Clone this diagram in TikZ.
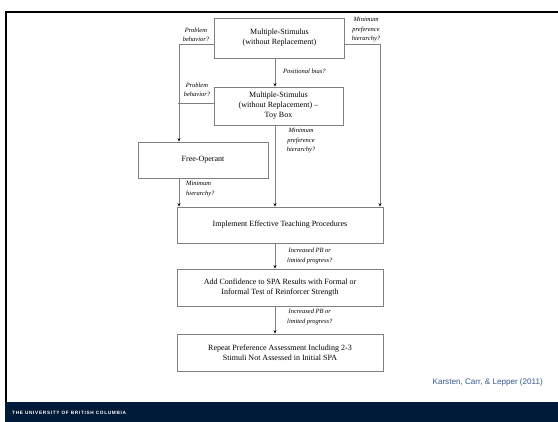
\documentclass[tikz,border=0pt]{standalone}
\usepackage{fontspec}
\setmainfont{Liberation Serif}
\newfontfamily\arialfont{Liberation Sans}
\usetikzlibrary{arrows.meta}
\definecolor{boxgrey}{RGB}{128,128,128}
\definecolor{navy}{RGB}{0,27,56}
\definecolor{citeblue}{RGB}{54,89,143}
\tikzset{
  flowbox/.style={draw=boxgrey, line width=0.7pt, align=center, font=\fontsize{8}{10}\selectfont, inner sep=0pt},
  lab/.style={font=\fontsize{6.5}{9.5}\selectfont\itshape, align=center, inner sep=0pt},
  conn/.style={draw=boxgrey, line width=1pt},
  arr/.style={conn, -{Stealth[color=black,length=3.5pt,width=3pt]}}
}
\begin{document}
\begin{tikzpicture}[x=1pt,y=-1pt]
\useasboundingbox (0,0) rectangle (558,422);
% frame
\fill[white] (0,0) rectangle (558,422);
\draw[line width=2pt] (6,402) -- (6,12) -- (558,12);
\fill[navy] (5,402) rectangle (558,422);
\node[anchor=west, text=white, inner sep=0pt, font=\arialfont\bfseries\fontsize{4.7}{5}\selectfont\addfontfeature{LetterSpace=15}] (ubc) at (12,413) {THE UNIVERSITY OF BRITISH COLUMBIA};
\node[anchor=east, text=citeblue, inner sep=0pt, font=\arialfont\fontsize{8.1}{10}\selectfont] (cite) at (543,382) {Karsten, Carr, \& Lepper (2011)};
% boxes
\node[flowbox, minimum width=130pt, minimum height=40pt] (b1) at (279.5,38) {Multiple-Stimulus\\(without Replacement)};
\node[flowbox, minimum width=129pt, minimum height=38pt] (b2) at (278.5,106) {Multiple-Stimulus\\(without Replacement) --\\Toy Box};
\node[flowbox, minimum width=130pt, minimum height=36pt] (fo) at (203,160) {Free-Operant};
\node[flowbox, minimum width=206pt, minimum height=36pt] (imp) at (280,225) {Implement Effective Teaching Procedures};
\node[flowbox, minimum width=206pt, minimum height=37pt] (add) at (280,287.5) {Add Confidence to SPA Results with Formal or\\Informal Test of Reinforcer Strength};
\node[flowbox, minimum width=206pt, minimum height=37pt] (rep) at (280,352.5) {Repeat Preference Assessment Including 2-3\\Stimuli Not Assessed in Initial SPA};
% connectors
\draw[arr] ([yshift=-7pt]b1.west) -| ([xshift=-24pt]fo.north);
\draw[conn] ([yshift=2pt]b2.west) -- ++(-36,0);
\draw[arr] ([yshift=-7pt]b1.east) -| ([xshift=100pt]imp.north);
\draw[arr] ([xshift=-4.5pt]b1.south) -- ([xshift=-3.5pt]b2.north);
\draw[arr] ([xshift=-3.5pt]b2.south) -- ([xshift=-5pt]imp.north);
\draw[arr] ([xshift=-24pt]fo.south) -- ([xshift=-101pt]imp.north);
\draw[arr] ([xshift=-5pt]imp.south) -- ([xshift=-5pt]add.north);
\draw[arr] ([xshift=-5pt]add.south) -- ([xshift=-5pt]rep.north);
% labels
\node[lab] (l1) at (196,35) {Problem\\behavior?};
\node[lab] (l2) at (366,30) {Minimum\\preference\\hierarchy?};
\node[lab, anchor=west] (l3) at (283,71) {Positional bias?};
\node[lab] (l4) at (197,90) {Problem\\behavior?};
\node[lab] (l5) at (301,141) {Minimum\\preference\\hierarchy?};
\node[lab, anchor=west, align=left] (l6) at (186,189) {Minimum\\hierarchy?};
\node[lab, anchor=west, align=center] (l7) at (287,256) {Increased PB or\\limited progress?};
\node[lab, anchor=west, align=center] (l8) at (287,317) {Increased PB or\\limited progress?};
\end{tikzpicture}
\end{document}
